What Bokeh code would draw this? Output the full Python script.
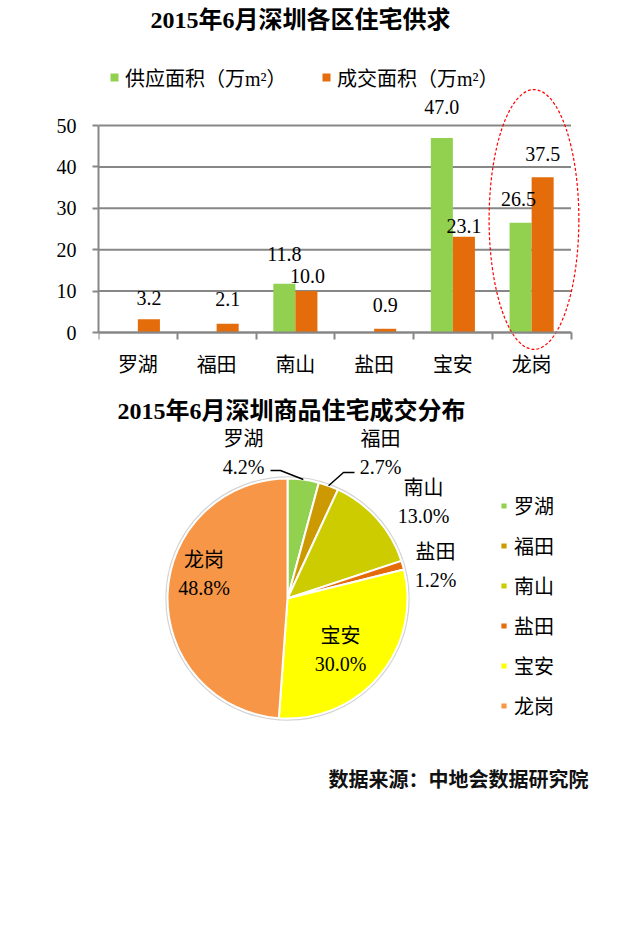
import math
from bokeh.plotting import figure
from bokeh.models import (Range1d, FixedTicker, Label, Legend, LegendItem,
                          ColumnDataSource)
from bokeh.core.properties import value
from bokeh.embed import file_html
from bokeh.resources import INLINE

# ---------------- data ----------------
districts = ["罗湖", "福田", "南山", "盐田", "宝安", "龙岗"]
supply = [0, 0, 11.8, 0, 47.0, 26.5]          # 供应面积（万m²）
deal = [3.2, 2.1, 10.0, 0.9, 23.1, 37.5]       # 成交面积（万m²）
y_ticks = [0, 10, 20, 30, 40, 50]
share = [4.2, 2.7, 13.0, 1.2, 30.0, 48.8]      # 成交分布 %
title_bar = "2015年6月深圳各区住宅供求"
title_pie = "2015年6月深圳商品住宅成交分布"
supply_name = "供应面积（万m²）"
deal_name = "成交面积（万m²）"
source_note = "数据来源：中地会数据研究院"
highlight = "龙岗"

# ---------------- style / layout ----------------
GREEN, ORANGE, GRAY = "#92D050", "#E46C0A", "#878787"
pie_colors = ["#92D050", "#CC9900", "#CCCC00", "#E46C0A", "#FFFF00", "#F79646"]
SERIF = "'Liberation Serif', 'Noto Sans CJK SC'"
CJK = "'Noto Sans CJK SC'"
FS = "20px"

ORIGIN = 0
W, H = 624, 880
BL, BR, BT, BB = 98, 30, 0, 80
frame_w, frame_h = W - BL - BR, H - BT - BB
FX0, FY0 = ORIGIN + BL, ORIGIN + BT
FY1 = FY0 + frame_h
ZERO_Y, PX_PER_UNIT = 332, 4.14
y_end = (ZERO_Y - FY0) / PX_PER_UNIT
y_start = -(FY1 - ZERO_Y) / PX_PER_UNIT
CAT_PX = 78.75

p = figure(width=W, height=H, x_range=Range1d(-0.5, -0.5 + frame_w / CAT_PX),
           y_range=Range1d(y_start, y_end), output_backend="svg",
           toolbar_location=None, min_border_left=BL, min_border_right=BR,
           min_border_top=BT, min_border_bottom=BB, title=None)
p.extra_x_ranges = {"px": Range1d(FX0, FX0 + frame_w)}
p.extra_y_ranges = {"px": Range1d(-FY1, -FY0)}
p.outline_line_color = None
p.xgrid.visible = False
p.ygrid.visible = False
p.background_fill_color = "white"
p.border_fill_color = "white"

# ---------------- bar chart ----------------
n = len(districts)
bw = 0.28
xs = [i - bw / 2 for i in range(n)]
xd = [i + bw / 2 for i in range(n)]

p.segment(x0=-0.5, x1=n - 0.5, y0=y_ticks, y1=y_ticks, line_color=GRAY, line_width=2)

src = ColumnDataSource(dict(xs=xs, xd=xd, supply=supply, deal=deal))
r_s = p.vbar(x="xs", top="supply", width=bw, source=src, fill_color=GREEN, line_color=None)
r_d = p.vbar(x="xd", top="deal", width=bw, source=src, fill_color=ORANGE, line_color=None)

# value labels (pixel nudges above bar tops)
sup_dy = [0, 0, 30, 0, 31, 24]
sup_dx = [0, 0, 0, 0, 0, -2]
deal_dy = [21, 25, 15.6, 24, 11, 23]
deal_dx = [0, 0, 1, 0, 0, 0]
lx, ly, lt, ox, oy = [], [], [], [], []
for i in range(n):
    if supply[i] > 0:
        lx.append(xs[i]); ly.append(supply[i]); lt.append(f"{supply[i]:.1f}")
        ox.append(sup_dx[i]); oy.append(-sup_dy[i])
    if deal[i] > 0:
        lx.append(xd[i]); ly.append(deal[i]); lt.append(f"{deal[i]:.1f}")
        ox.append(deal_dx[i]); oy.append(-deal_dy[i])
p.text(x=lx, y=ly, text=lt, x_offset=ox, y_offset=oy, text_align="center",
       text_baseline="middle", text_font=value(SERIF), text_font_size=FS,
       text_color="black")

# highlight ellipse
hi = districts.index(highlight)
p.ellipse(x=[hi + 0.03], y=[27.3], width=1.14, height=62.8, fill_color=None,
          line_color="#FF0000", line_dash="3 2", line_width=1.2)

# axes
xa = p.xaxis[0]
xa.ticker = FixedTicker(ticks=list(range(n)), minor_ticks=[i - 0.5 for i in range(n + 1)])
xa.major_label_overrides = {i: d for i, d in enumerate(districts)}
xa.fixed_location = 0
xa.bounds = (-0.5, n - 0.5)
xa.major_tick_out = 0
xa.major_tick_in = 0
xa.minor_tick_out = 7
xa.minor_tick_in = 0
xa.minor_tick_line_color = GRAY
xa.minor_tick_line_width = 2
xa.axis_line_color = GRAY
xa.axis_line_width = 2
xa.major_label_standoff = 14
xa.major_label_text_font = SERIF
xa.major_label_text_font_size = FS
xa.major_label_text_color = "black"

ya = p.yaxis[0]
ya.ticker = FixedTicker(ticks=y_ticks)
ya.bounds = (y_ticks[0], y_ticks[-1])
ya.major_tick_out = 6
ya.major_tick_in = 0
ya.minor_tick_out = 0
ya.minor_tick_in = 0
ya.major_tick_line_color = GRAY
ya.major_tick_line_width = 2
ya.axis_line_color = GRAY
ya.axis_line_width = 2
ya.major_label_standoff = 16
ya.major_label_text_font = SERIF
ya.major_label_text_font_size = FS
ya.major_label_text_color = "black"


def style_legend(leg, glyph, lh):
    leg.background_fill_alpha = 0
    leg.border_line_color = None
    leg.padding = 0
    leg.margin = 0
    leg.spacing = 0
    leg.glyph_width = glyph
    leg.glyph_height = glyph
    leg.label_height = lh
    leg.label_standoff = 6
    leg.label_text_font = SERIF
    leg.label_text_font_size = FS
    leg.label_text_color = "black"


leg1 = Legend(items=[LegendItem(label=supply_name, renderers=[r_s])], location=(109 - FX0, FY1 - 92))
leg2 = Legend(items=[LegendItem(label=deal_name, renderers=[r_d])], location=(321 - FX0, FY1 - 92))
for lg in (leg1, leg2):
    style_legend(lg, 10, 30)
    p.add_layout(lg)

# ---------------- pie chart ----------------
CX, CY, R = 287, -598, 120
total = sum(share)
starts, ends, mids = [], [], []
cum = 0.0
for s in share:
    a0 = math.pi / 2 - 2 * math.pi * cum / total
    a1 = math.pi / 2 - 2 * math.pi * (cum + s) / total
    starts.append(a1); ends.append(a0); mids.append((a0 + a1) / 2)
    cum += s
pie_src = ColumnDataSource(dict(start=starts, end=ends, color=pie_colors, name=districts))
p.circle(x=[CX], y=[CY], radius=R + 1.5, fill_color=None, line_color="#d4d4d4",
         line_width=1.5, x_range_name="px", y_range_name="px")
r_pie = p.wedge(x=CX, y=CY, radius=R, start_angle="start", end_angle="end",
                fill_color="color", line_color="white", line_width=2, source=pie_src,
                x_range_name="px", y_range_name="px")

# pie labels: offsets of label block centres from the pie centre (page px, y down)
lab_off = [(-44, -145.5), (93, -145.5), (136, -97), (148, -33), (53, 51), (-83.5, -24.5)]
px_ = [CX + dx for dx, dy in lab_off]
py_ = [CY - dy for dx, dy in lab_off]
pct = [f"{s:.1f}%" for s in share]
p.text(x=px_, y=py_, text=districts, y_offset=-14, text_align="center", text_baseline="middle",
       text_font=value(SERIF), text_font_size=FS, text_color="black",
       x_range_name="px", y_range_name="px")
p.text(x=px_, y=py_, text=pct, y_offset=14, text_align="center", text_baseline="middle",
       text_font=value(SERIF), text_font_size=FS, text_color="black",
       x_range_name="px", y_range_name="px")

# leader lines for the two thin slices
def edge(i):
    return CX + R * math.cos(mids[i]), CY + R * math.sin(mids[i])

leader_pts = {0: [(-7, -128), (-17, -128)], 1: [(56, -126), (67, -126)]}
mx, my = [], []
for i, pts in leader_pts.items():
    ex, ey = edge(i)
    mx.append([ex] + [CX + a for a, b in pts])
    my.append([ey] + [CY - b for a, b in pts])
p.multi_line(xs=mx, ys=my, line_color="black", line_width=1.5,
             x_range_name="px", y_range_name="px")

leg3 = Legend(items=[LegendItem(label=d, renderers=[r_pie], index=i) for i, d in enumerate(districts)],
              location=(499 - FX0, FY1 - 725))
style_legend(leg3, 9, 40)
p.add_layout(leg3)

# titles & source
p.add_layout(Label(x=300, y=-19, text=title_bar, x_range_name="px", y_range_name="px",
                   text_align="center", text_baseline="middle", text_font=SERIF,
                   text_font_size="24px", text_font_style="bold", text_color="black"))
p.add_layout(Label(x=291, y=-410, text=title_pie, x_range_name="px", y_range_name="px",
                   text_align="center", text_baseline="middle", text_font=SERIF,
                   text_font_size="24px", text_font_style="bold", text_color="black"))
p.add_layout(Label(x=588, y=-778, text=source_note, x_range_name="px", y_range_name="px",
                   text_align="right", text_baseline="middle", text_font=CJK,
                   text_font_size="20px", text_font_style="bold", text_color="#111111"))

open("out.html", "w").write(file_html(p, INLINE))
